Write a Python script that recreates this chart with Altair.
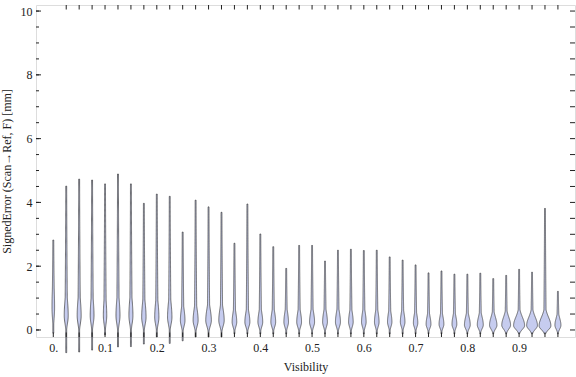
import numpy as np
import pandas as pd
import altair as alt

# ---- data ----
visibility = [round(i * 0.025, 3) for i in range(40)]
vmax = [2.82, 4.51, 4.73, 4.70, 4.58, 4.89, 4.58, 3.97, 4.26, 4.19,
        3.07, 4.07, 3.86, 3.69, 2.72, 3.95, 3.01, 2.61, 1.93, 2.65,
        2.65, 2.16, 2.50, 2.53, 2.49, 2.50, 2.29, 2.19, 2.04, 1.79,
        1.85, 1.75, 1.75, 1.78, 1.61, 1.71, 1.90, 1.81, 3.81, 1.21]
vmin = [-0.10, -0.71, -0.69, -0.63, -0.15, -0.53, -0.52, -0.44, -0.22, -0.42,
        -0.34, -0.22, -0.22, -0.22, -0.12, -0.12, -0.12, -0.12, -0.12, -0.12,
        -0.12, -0.12, -0.12, -0.12, -0.12, -0.12, -0.12, -0.12, -0.12, -0.12,
        -0.12, -0.12, -0.12, -0.12, -0.12, -0.12, -0.12, -0.12, -0.12, -0.12]
mode = [0.70, 0.45, 0.45, 0.45, 0.45, 0.45, 0.45, 0.40, 0.40, 0.40,
        0.30, 0.30, 0.30, 0.30, 0.25, 0.25, 0.25, 0.25, 0.25, 0.25,
        0.25, 0.25, 0.25, 0.25, 0.25, 0.25, 0.25, 0.25, 0.22, 0.18,
        0.18, 0.18, 0.16, 0.16, 0.15, 0.15, 0.14, 0.14, 0.13, 0.15]
bulb_px = [1.6, 2.3, 2.3, 2.2, 2.0, 2.3, 2.3, 2.5, 2.4, 2.5,
           2.6, 2.8, 3.1, 3.0, 2.6, 2.8, 2.7, 2.7, 2.6, 2.7,
           2.8, 2.7, 2.8, 2.6, 2.6, 2.6, 2.5, 2.6, 2.5, 2.7,
           2.7, 2.7, 3.2, 3.3, 4.0, 4.7, 5.8, 5.7, 6.2, 3.3]
sd_up = [0.70, 0.50, 0.50, 0.50, 0.50, 0.50, 0.50, 0.45, 0.45, 0.45,
         0.35, 0.35, 0.35, 0.35, 0.30, 0.30, 0.30, 0.30, 0.30, 0.30,
         0.30, 0.30, 0.30, 0.30, 0.30, 0.30, 0.28, 0.28, 0.26, 0.25,
         0.25, 0.25, 0.25, 0.25, 0.25, 0.25, 0.26, 0.26, 0.27, 0.22]
sd_dn = [0.35, 0.25, 0.25, 0.25, 0.25, 0.25, 0.25, 0.22, 0.22, 0.22,
         0.18, 0.18, 0.18, 0.18, 0.15, 0.15, 0.15, 0.15, 0.15, 0.15,
         0.15, 0.15, 0.15, 0.15, 0.15, 0.15, 0.14, 0.14, 0.13, 0.12,
         0.12, 0.12, 0.12, 0.12, 0.12, 0.12, 0.12, 0.12, 0.12, 0.12]

x_ticks = [0.0, 0.1, 0.2, 0.3, 0.4, 0.5, 0.6, 0.7, 0.8, 0.9]
y_ticks = [0, 2, 4, 6, 8, 10]
y_minor = [k * 0.5 for k in range(21)]

W, H = 539, 332
x_dom = [-0.0334, 1.008]
y_dom = [-0.22, 10.19]
px_per_x = W / (x_dom[1] - x_dom[0])

rows = []
for i, v in enumerate(visibility):
    ys = np.linspace(vmin[i], vmax[i], 180)
    up = ys >= mode[i]
    z = np.where(up, (ys - mode[i]) / sd_up[i], (ys - mode[i]) / sd_dn[i])
    bulb = (bulb_px[i] - 0.3) * np.exp(-0.5 * z ** 2)
    frac = np.clip((ys - mode[i]) / (vmax[i] - mode[i]), 0, 1)
    tail = np.where(up, 0.45 + 0.75 * (1 - frac) ** 1.5, 0.45)
    hw = np.maximum(bulb, tail) / px_per_x
    for y, h in zip(ys, hw):
        rows.append({"id": i, "y": float(y), "xl": v - float(h), "xr": v + float(h)})
vdf = pd.DataFrame(rows)

font = "Liberation Serif"
xs = alt.Scale(domain=x_dom, nice=False, zero=False)
ysc = alt.Scale(domain=y_dom, nice=False, zero=False)

violins = alt.Chart(vdf).mark_area(
    orient="horizontal", fill="#c6ccef", stroke="#3c3c3c",
    strokeWidth=0.8, strokeOpacity=0.9
).encode(
    y=alt.Y("y:Q", scale=ysc, axis=alt.Axis(
        values=y_ticks, ticks=False, domain=False, grid=False,
        title="SignedError (Scan→Ref, F) [mm]", labelPadding=4,
        titlePadding=7, labelFont=font, titleFont=font, labelFontSize=12,
        titleFontSize=12, titleFontWeight="normal", labelColor="#222",
        titleColor="#222")),
    x=alt.X("xl:Q", scale=xs, axis=alt.Axis(
        values=x_ticks, ticks=False, domain=False, grid=False,
        title="Visibility", labelPadding=5, titlePadding=8,
        labelExpr="datum.value == 0 ? '0.' : format(datum.value, '.1f')",
        labelFont=font, titleFont=font, labelFontSize=12, titleFontSize=12,
        titleFontWeight="normal", labelColor="#222", titleColor="#222")),
    x2="xr:Q",
    detail="id:N",
)

vis_df = pd.DataFrame({"x": visibility})
bottom_t = alt.Chart(vis_df).mark_rule(color="#222", strokeWidth=1).encode(
    x=alt.X("x:Q", scale=xs), y=alt.value(H), y2=alt.value(H - 4.5))
top_t = alt.Chart(vis_df[vis_df.x > 0]).mark_rule(color="#222", strokeWidth=1).encode(
    x=alt.X("x:Q", scale=xs), y=alt.value(0), y2=alt.value(4.5))

ymin_df = pd.DataFrame({"y": y_minor})
ymaj_df = pd.DataFrame({"y": y_ticks})
left_minor = alt.Chart(ymin_df).mark_rule(color="#222", strokeWidth=1).encode(
    y=alt.Y("y:Q", scale=ysc), x=alt.value(0), x2=alt.value(3))
left_major = alt.Chart(ymaj_df).mark_rule(color="#222", strokeWidth=1).encode(
    y=alt.Y("y:Q", scale=ysc), x=alt.value(0), x2=alt.value(5))
right_t = alt.Chart(ymin_df).mark_rule(color="#222", strokeWidth=1).encode(
    y=alt.Y("y:Q", scale=ysc), x=alt.value(W), x2=alt.value(W - 5))

chart = alt.layer(violins, bottom_t, top_t, left_minor, left_major, right_t).properties(
    width=W, height=H, autosize="none",
    padding={"left": 36, "top": 5, "right": 1, "bottom": 40},
).configure_view(stroke="#222", strokeWidth=1).configure(background="white")

chart.save("out.html", embed_options={"renderer": "svg", "actions": False})
